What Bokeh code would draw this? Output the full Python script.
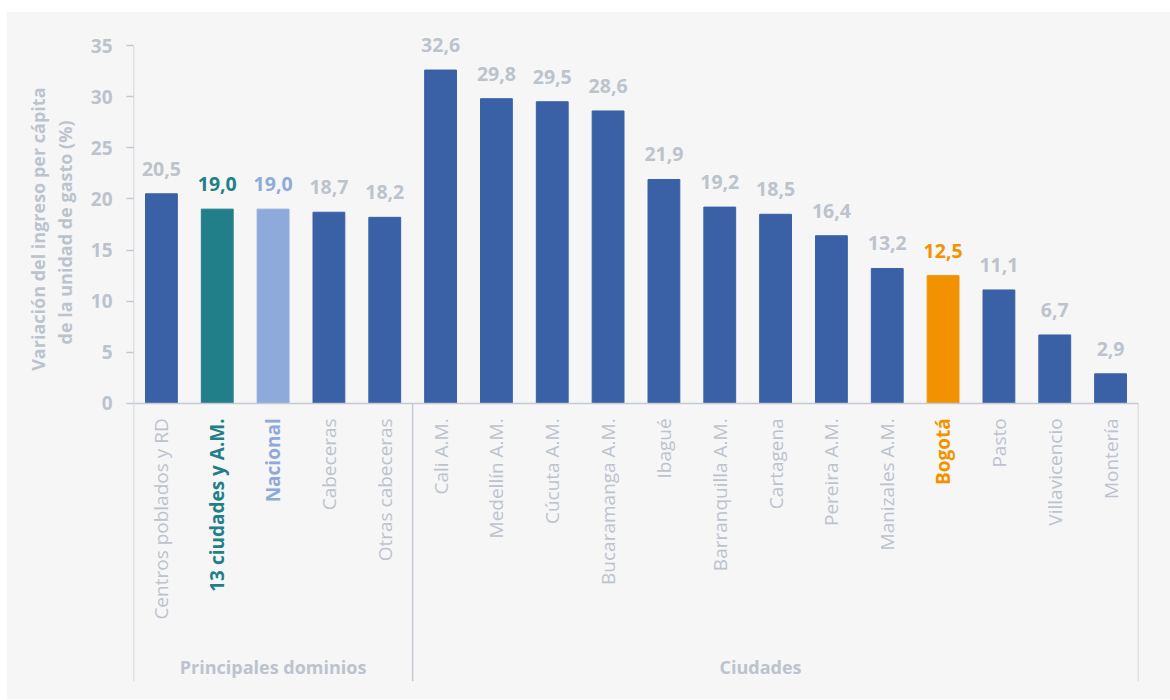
from math import pi
from bokeh.plotting import figure
from bokeh.models import Range1d, FixedTicker, Title, ColumnDataSource
from bokeh.core.properties import value
from bokeh.embed import file_html
from bokeh.resources import INLINE

# ---- data ----
categories = ["Centros poblados y RD", "13 ciudades y A.M.", "Nacional", "Cabeceras",
              "Otras cabeceras", "Cali A.M.", "Medellín A.M.", "Cúcuta A.M.",
              "Bucaramanga A.M.", "Ibagué", "Barranquilla A.M.", "Cartagena",
              "Pereira A.M.", "Manizales A.M.", "Bogotá", "Pasto", "Villavicencio", "Montería"]
values = [20.5, 19.0, 19.0, 18.7, 18.2, 32.6, 29.8, 29.5, 28.6, 21.9, 19.2, 18.5,
          16.4, 13.2, 12.5, 11.1, 6.7, 2.9]
groups = ["Principales dominios", "Ciudades"]
group_sizes = [5, 13]
y_ticks = [0, 5, 10, 15, 20, 25, 30, 35]
y_title = ["Variación del ingreso per cápita", "de la unidad de gasto (%)"]
highlight = {"13 ciudades y A.M.": "teal", "Nacional": "light", "Bogotá": "orange"}

# ---- styles ----
BLUE = "#3a61a6"
TEAL = "#217f8a"
LIGHT = "#8eaadb"
ORANGE = "#f39200"
GRAY = "#bcc3cd"
LINE = "#c3c9d3"
BG = "#f6f6f6"
FONT = "Open Sans"
hl_col = {"teal": TEAL, "light": LIGHT, "orange": ORANGE}

n = len(categories)
xs = list(range(n))
bar_colors = [hl_col.get(highlight.get(c), BLUE) for c in categories]
text_colors = [hl_col.get(highlight.get(c), GRAY) for c in categories]
styles = ["bold" if c in highlight else "normal" for c in categories]
val_txt = [f"{v:.1f}".replace(".", ",") for v in values]

src = ColumnDataSource(dict(x=xs, top=values, bc=bar_colors, tc=text_colors,
                            st=styles, vt=val_txt, cat=categories,
                            ylab=[-1.45] * n))

p = figure(width=1164, height=688, x_range=Range1d(-0.5, n - 0.5),
           y_range=Range1d(-27.18, 35.88), output_backend="svg",
           toolbar_location=None, x_axis_location=None,
           min_border_left=127, min_border_right=32, min_border_top=25,
           min_border_bottom=18)
p.margin = (11, 0, 0, 6)
p.background_fill_color = BG
p.border_fill_color = BG
p.outline_line_color = None
p.xgrid.visible = False
p.ygrid.visible = False

# bars
p.vbar(x="x", top="top", bottom=0, width=0.57, color="bc", source=src)

# value labels
p.text(x="x", y="top", text="vt", text_color="tc", text_font=value(FONT),
       text_font_style="bold", text_font_size="19.5px", text_align="center",
       text_baseline="alphabetic", y_offset=-25, source=src)

# category labels (rotated)
p.text(x="x", y="ylab", text="cat", text_color="tc", text_font=value(FONT),
       text_font_style="st", text_font_size="19px", angle=pi / 2,
       text_align="right", text_baseline="middle", source=src)

# axis lines / separators
bounds = [-0.5]
acc = -0.5
for g in group_sizes:
    acc += g
    bounds.append(acc)
ymin = p.y_range.start
p.segment(x0=[-0.5], y0=[ymin], x1=[-0.5], y1=[35], line_color=LINE, line_width=1.5)
p.segment(x0=bounds[1:], y0=[0] * (len(bounds) - 1), x1=bounds[1:],
          y1=[ymin] * (len(bounds) - 1), line_color=LINE, line_width=1.5)
p.segment(x0=[-0.5], y0=[0], x1=[n - 0.5], y1=[0], line_color=LINE, line_width=1.5)

# group labels
gx = [(bounds[0] + bounds[1]) / 2, (bounds[1] + bounds[2]) / 2 - 0.27]
p.text(x=gx, y=[-25.8] * 2, text=groups, text_color=GRAY, text_font=value(FONT),
       text_font_style="bold", text_font_size="18px", text_align="center",
       text_baseline="middle")

# y axis
yax = p.yaxis[0]
yax.ticker = FixedTicker(ticks=y_ticks)
yax.axis_line_color = None
yax.major_tick_line_color = LINE
yax.major_tick_line_width = 1.5
yax.major_tick_out = 7
yax.major_tick_in = 0
yax.minor_tick_line_color = None
yax.major_label_text_color = GRAY
yax.major_label_text_font = FONT
yax.major_label_text_font_style = "bold"
yax.major_label_text_font_size = "19px"
yax.major_label_standoff = 14
yax.axis_label = " "
yax.axis_label_text_font_size = "2px"
yax.axis_label_standoff = 5

# y axis title as two stacked side titles (inner = second line)
for txt, off, so in [(y_title[1], 84, 2), (y_title[0], 51, 0)]:
    t = Title(text=txt, align="right", offset=off, standoff=so,
              text_font=FONT, text_font_style="bold", text_font_size="18px",
              text_color=GRAY)
    p.add_layout(t, "left")

open("out.html", "w").write(file_html(p, INLINE))
